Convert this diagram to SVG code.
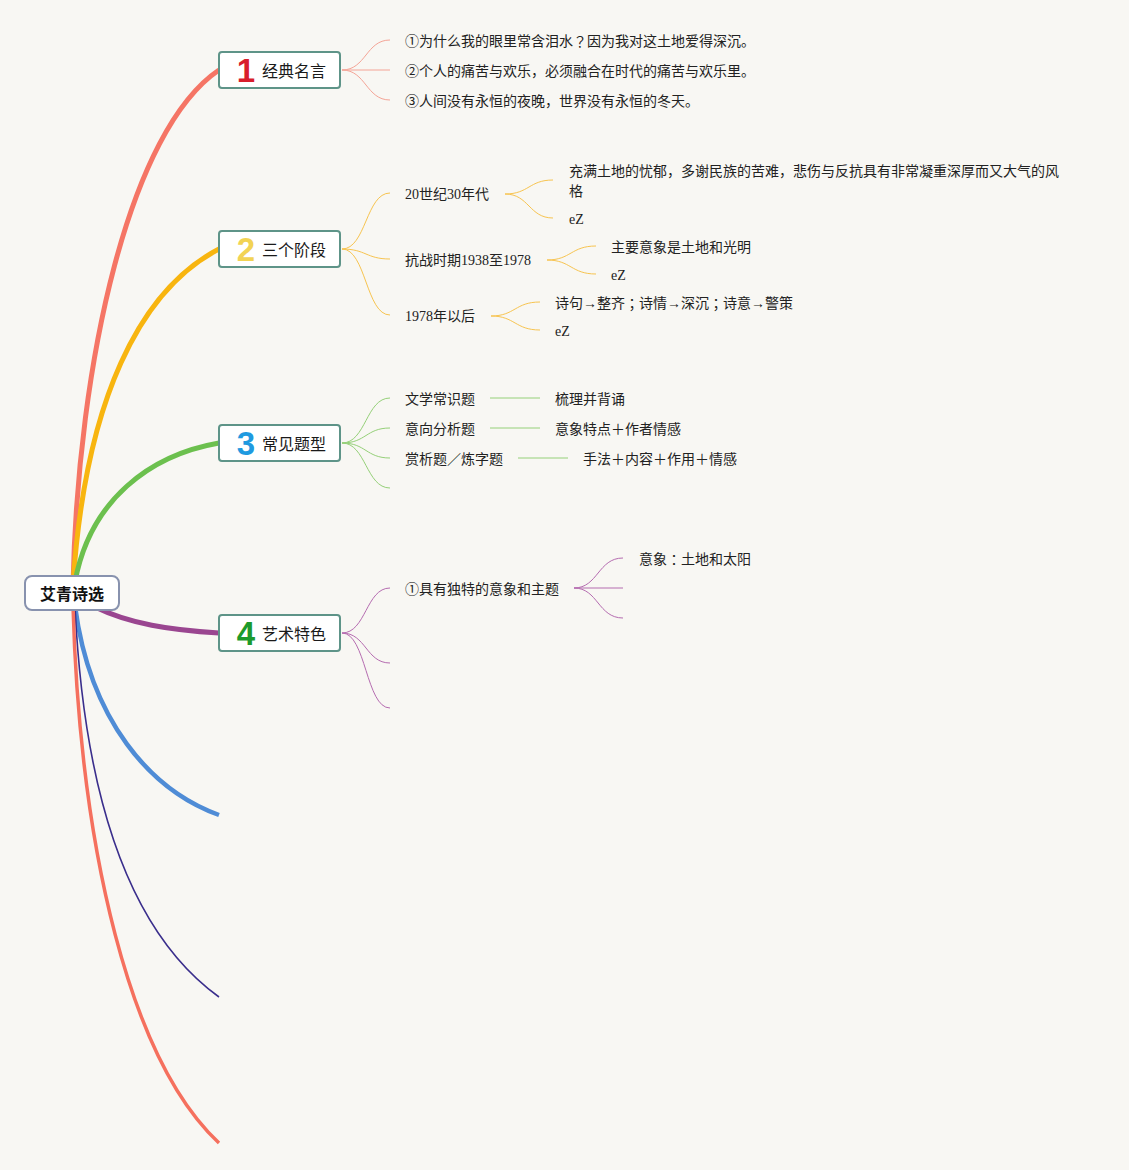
<svg xmlns="http://www.w3.org/2000/svg" width="1129" height="1170" viewBox="0 0 1129 1170">
<style>
.bg{fill:#f8f7f3}
.main{fill:none;stroke-linecap:butt}
.sub{fill:none;stroke-width:1}
.node rect{fill:#ffffff;stroke:#5e9488;stroke-width:2}
.lbl{font-family:"Noto Sans CJK SC","Liberation Sans",sans-serif;font-size:16px;fill:#1a1a1a;dominant-baseline:central}
.num{font-family:"Liberation Sans","Noto Sans CJK SC",sans-serif;font-size:33px;font-weight:bold;text-anchor:middle;dominant-baseline:central}
.t{font-family:"Liberation Serif","Noto Sans CJK SC",serif;font-size:14px;fill:#222;dominant-baseline:central}
.p{font-family:"Noto Sans CJK JP",sans-serif}
.root rect{fill:#ffffff;stroke:#8892ae;stroke-width:2}
.rootlbl{font-family:"Noto Sans CJK SC","Liberation Sans",sans-serif;font-size:16px;font-weight:bold;fill:#111;text-anchor:middle;dominant-baseline:central}
</style>
<rect class="bg" x="0" y="0" width="1129" height="1170"/>

<g id="connectors">
  <path class="main" d="M73,585 C78,360 130,130 219,70" stroke="#f57565" stroke-width="5"/>
  <path class="main" d="M73,585 C85,400 140,290 219,249" stroke="#f8b50f" stroke-width="5"/>
  <path class="main" d="M75,582 C90,500 150,455 219,443" stroke="#6cc04e" stroke-width="5"/>
  <path class="main" d="M95,607 C130,624 170,630 219,633" stroke="#9a4690" stroke-width="5"/>
  <path class="main" d="M75,606 C90,720 150,790 219,815" stroke="#4f8cd6" stroke-width="4.5"/>
  <path class="main" d="M75,606 C85,820 140,940 219,997" stroke="#3a2e8c" stroke-width="1.6"/>
  <path class="main" d="M73,606 C80,850 130,1060 219,1143" stroke="#f5705e" stroke-width="3.5"/>

  <g stroke="#f4a496" class="sub">
    <path d="M342,70 C366,70 366,40 390,40"/>
    <path d="M342,70 H390"/>
    <path d="M342,70 C366,70 366,100 390,100"/>
  </g>
  <g stroke="#f7c450" class="sub">
    <path d="M342,249 C366,249 366,193 390,193"/>
    <path d="M342,249 C366,249 366,259 390,259"/>
    <path d="M342,249 C366,249 366,315 390,315"/>
    <path d="M505,194 C529,194 529,180 553,180"/>
    <path d="M505,194 C529,194 529,218 553,218"/>
    <path d="M547,260 C571,260 571,246 596,246"/>
    <path d="M547,260 C571,260 571,274 596,274"/>
    <path d="M491,316 C515,316 515,302 540,302"/>
    <path d="M491,316 C515,316 515,330 540,330"/>
  </g>
  <g stroke="#95d078" class="sub">
    <path d="M342,443 C366,443 366,398 390,398"/>
    <path d="M342,443 C366,443 366,428 390,428"/>
    <path d="M342,443 C366,443 366,458 390,458"/>
    <path d="M342,443 C366,443 366,488 390,488"/>
    <path d="M490,398 H540"/>
    <path d="M490,428 H540"/>
    <path d="M518,458 H568"/>
  </g>
  <g stroke="#b56cb0" class="sub">
    <path d="M342,633 C366,633 366,588 390,588"/>
    <path d="M342,633 C366,633 366,663 390,663"/>
    <path d="M342,633 C366,633 366,708 390,708"/>
    <path d="M574,588 C598,588 598,558 623,558"/>
    <path d="M574,588 H623"/>
    <path d="M574,588 C598,588 598,618 623,618"/>
  </g>
</g>

<g id="root" class="root">
  <rect x="25" y="576" width="94" height="34" rx="7"/>
  <text class="rootlbl" x="72" y="593">艾青诗选</text>
</g>

<g id="node1" class="node">
  <rect x="219" y="52" width="121" height="36" rx="3"/>
  <text class="num" x="246" y="70" fill="#d81e2c">1</text>
  <text class="lbl" x="262" y="70">经典名言</text>
</g>
<g id="node2" class="node">
  <rect x="219" y="231" width="121" height="36" rx="3"/>
  <text class="num" x="246" y="249" fill="#f2d354">2</text>
  <text class="lbl" x="262" y="249">三个阶段</text>
</g>
<g id="node3" class="node">
  <rect x="219" y="425" width="121" height="36" rx="3"/>
  <text class="num" x="246" y="443" fill="#1f9ae0">3</text>
  <text class="lbl" x="262" y="443">常见题型</text>
</g>
<g id="node4" class="node">
  <rect x="219" y="615" width="121" height="36" rx="3"/>
  <text class="num" x="246" y="633" fill="#1c9a2c">4</text>
  <text class="lbl" x="262" y="633">艺术特色</text>
</g>

<g id="n1-subs">
  <text class="t" x="405" y="41">①为什么我的眼里常含泪水<tspan class="p">？</tspan>因为我对这土地爱得深沉。</text>
  <text class="t" x="405" y="71">②个人的痛苦与欢乐，必须融合在时代的痛苦与欢乐里。</text>
  <text class="t" x="405" y="101">③人间没有永恒的夜晚，世界没有永恒的冬天。</text>
</g>
<g id="n2-subs">
  <text class="t" x="405" y="194">20世纪30年代</text>
  <text class="t" x="569" y="171">充满土地的忧郁，多谢民族的苦难，悲伤与反抗具有非常凝重深厚而又大气的风</text>
  <text class="t" x="569" y="191">格</text>
  <text class="t" x="569" y="219">eZ</text>
  <text class="t" x="405" y="260">抗战时期1938至1978</text>
  <text class="t" x="611" y="247">主要意象是土地和光明</text>
  <text class="t" x="611" y="275">eZ</text>
  <text class="t" x="405" y="316">1978年以后</text>
  <text class="t" x="555" y="303">诗句→整齐<tspan class="p">；</tspan>诗情→深沉<tspan class="p">；</tspan>诗意→警策</text>
  <text class="t" x="555" y="331">eZ</text>
</g>
<g id="n3-subs">
  <text class="t" x="405" y="399">文学常识题</text>
  <text class="t" x="555" y="399">梳理并背诵</text>
  <text class="t" x="405" y="429">意向分析题</text>
  <text class="t" x="555" y="429">意象特点＋作者情感</text>
  <text class="t" x="405" y="459">赏析题／炼字题</text>
  <text class="t" x="583" y="459">手法＋内容＋作用＋情感</text>
</g>
<g id="n4-subs">
  <text class="t" x="405" y="589">①具有独特的意象和主题</text>
  <text class="t" x="639" y="559">意象<tspan class="p">：</tspan>土地和太阳</text>
</g>
</svg>
